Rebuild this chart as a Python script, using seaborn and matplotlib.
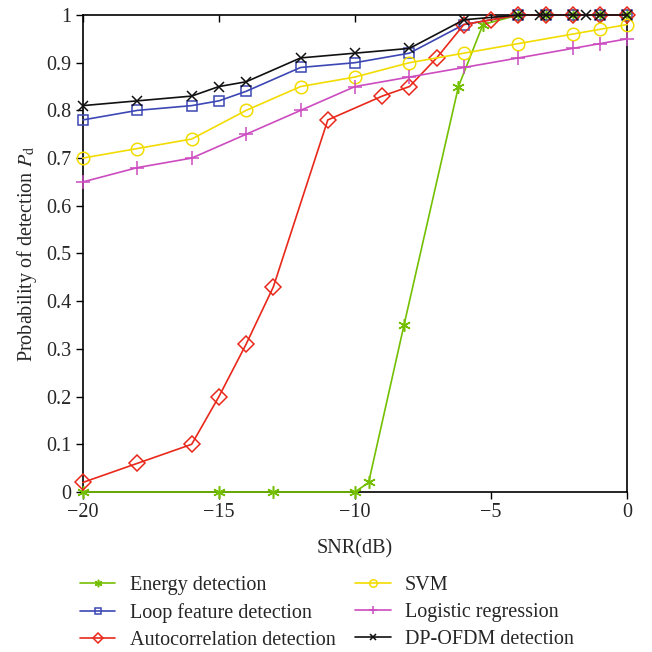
import numpy as np
import pandas as pd
import matplotlib
matplotlib.use("Agg")
import matplotlib.pyplot as plt
import seaborn as sns

# ---- data ----
snr_energy = [-20, -15, -13, -10, -9.5, -8.2, -6.2, -5.3, -4, -3, -2, -1, 0]
pd_energy = [0, 0, 0, 0, 0.02, 0.35, 0.85, 0.98, 1, 1, 1, 1, 1]

snr_loop = [-20, -18, -16, -15, -14, -12, -10, -8, -6, -4, -3, -2, -1, 0]
pd_loop = [0.78, 0.80, 0.81, 0.82, 0.84, 0.89, 0.90, 0.92, 0.98, 1, 1, 1, 1, 1]

snr_auto = [-20, -18, -16, -15, -14, -13, -11, -9, -8, -7, -6, -5, -4, -3, -2, -1, 0]
pd_auto = [0.02, 0.06, 0.10, 0.20, 0.31, 0.43, 0.78, 0.83, 0.85, 0.91, 0.98, 0.99, 1, 1, 1, 1, 1]

snr_svm = [-20, -18, -16, -14, -12, -10, -8, -6, -4, -2, -1, 0]
pd_svm = [0.70, 0.72, 0.74, 0.80, 0.85, 0.87, 0.90, 0.92, 0.94, 0.96, 0.97, 0.98]

snr_logit = [-20, -18, -16, -14, -12, -10, -8, -6, -4, -2, -1, 0]
pd_logit = [0.65, 0.68, 0.70, 0.75, 0.80, 0.85, 0.87, 0.89, 0.91, 0.93, 0.94, 0.95]

snr_dp = [-20, -18, -16, -15, -14, -12, -10, -8, -6, -4, -3.2, -3, -2, -1.5, -1, 0]
pd_dp = [0.81, 0.82, 0.83, 0.85, 0.86, 0.91, 0.92, 0.93, 0.99, 1, 1, 1, 1, 1, 1, 1]

labels = ["Energy detection", "Loop feature detection", "Autocorrelation detection",
          "SVM", "Logistic regression", "DP-OFDM detection"]
xticks = [-20, -15, -10, -5, 0]
yticks = [0, 0.1, 0.2, 0.3, 0.4, 0.5, 0.6, 0.7, 0.8, 0.9, 1]
ytick_labels = ["0", "0.1", "0.2", "0.3", "0.4", "0.5", "0.6", "0.7", "0.8", "0.9", "1"]
xtick_labels = ["\u221220", "\u221215", "\u221210", "\u22125", "0"]

# ---- style ----
sns.set_theme(style="white")
plt.rcParams["font.family"] = ["Liberation Serif", "DejaVu Serif"]
plt.rcParams["mathtext.fontset"] = "stix"
FS = 14.5

series = [
    (snr_energy, pd_energy, "#74c000", (6, 2, 0), 9),
    (snr_loop, pd_loop, "#3c47b4", "s", 7),
    (snr_auto, pd_auto, "#e8281a", "D", 8),
    (snr_svm, pd_svm, "#f2dc00", "o", 9),
    (snr_logit, pd_logit, "#cc4cc0", "+", 10),
    (snr_dp, pd_dp, "#111111", "x", 7),
]

fig = plt.figure(figsize=(6.52, 6.52), dpi=100)
ax = fig.add_axes([0.127, 0.2454, 0.835, 0.7316])

for (x, y, c, m, ms), lab in zip(series, labels):
    df = pd.DataFrame({"SNR": x, "Pd": y})
    sns.lineplot(data=df, x="SNR", y="Pd", ax=ax, color=c, marker=m,
                 markersize=ms, markerfacecolor="none", markeredgecolor=c,
                 markeredgewidth=1.1, linewidth=1.2, label=lab, legend=False,
                 clip_on=False, zorder=5)

ax.set_xlim(-20, 0)
ax.set_ylim(0, 1)
ax.set_xticks(xticks)
ax.set_xticklabels(xtick_labels)
ax.set_yticks(yticks)
ax.set_yticklabels(ytick_labels)
ax.set_xlabel("SNR(dB)", fontsize=FS, labelpad=12)
ax.set_ylabel("Probability of detection $P_\\mathrm{d}$", fontsize=FS, labelpad=5)
ax.tick_params(axis="both", labelsize=FS, direction="out", length=5, width=1,
               color="black", bottom=True, left=True)
ax.tick_params(axis="x", top=True, pad=3)
ax.tick_params(axis="y", pad=3)
for t in ax.xaxis.get_major_ticks():
    t.tick2line.set_marker(matplotlib.lines.TICKDOWN)
    t.tick2line.set_markersize(5)
for sp in ax.spines.values():
    sp.set_color("black")
    sp.set_linewidth(1.2)
    sp.set_visible(True)
    sp.set_zorder(2)

handles, labs = ax.get_legend_handles_labels()
fig.legend(handles, labs, ncol=2, loc="upper left", bbox_to_anchor=(0.123, 0.117),
           frameon=False, fontsize=FS, handlelength=1.75, handletextpad=0.7,
           columnspacing=1.0, labelspacing=0.4, markerscale=0.6,
           borderaxespad=0, borderpad=0)

fig.savefig("out.png", dpi=100)
